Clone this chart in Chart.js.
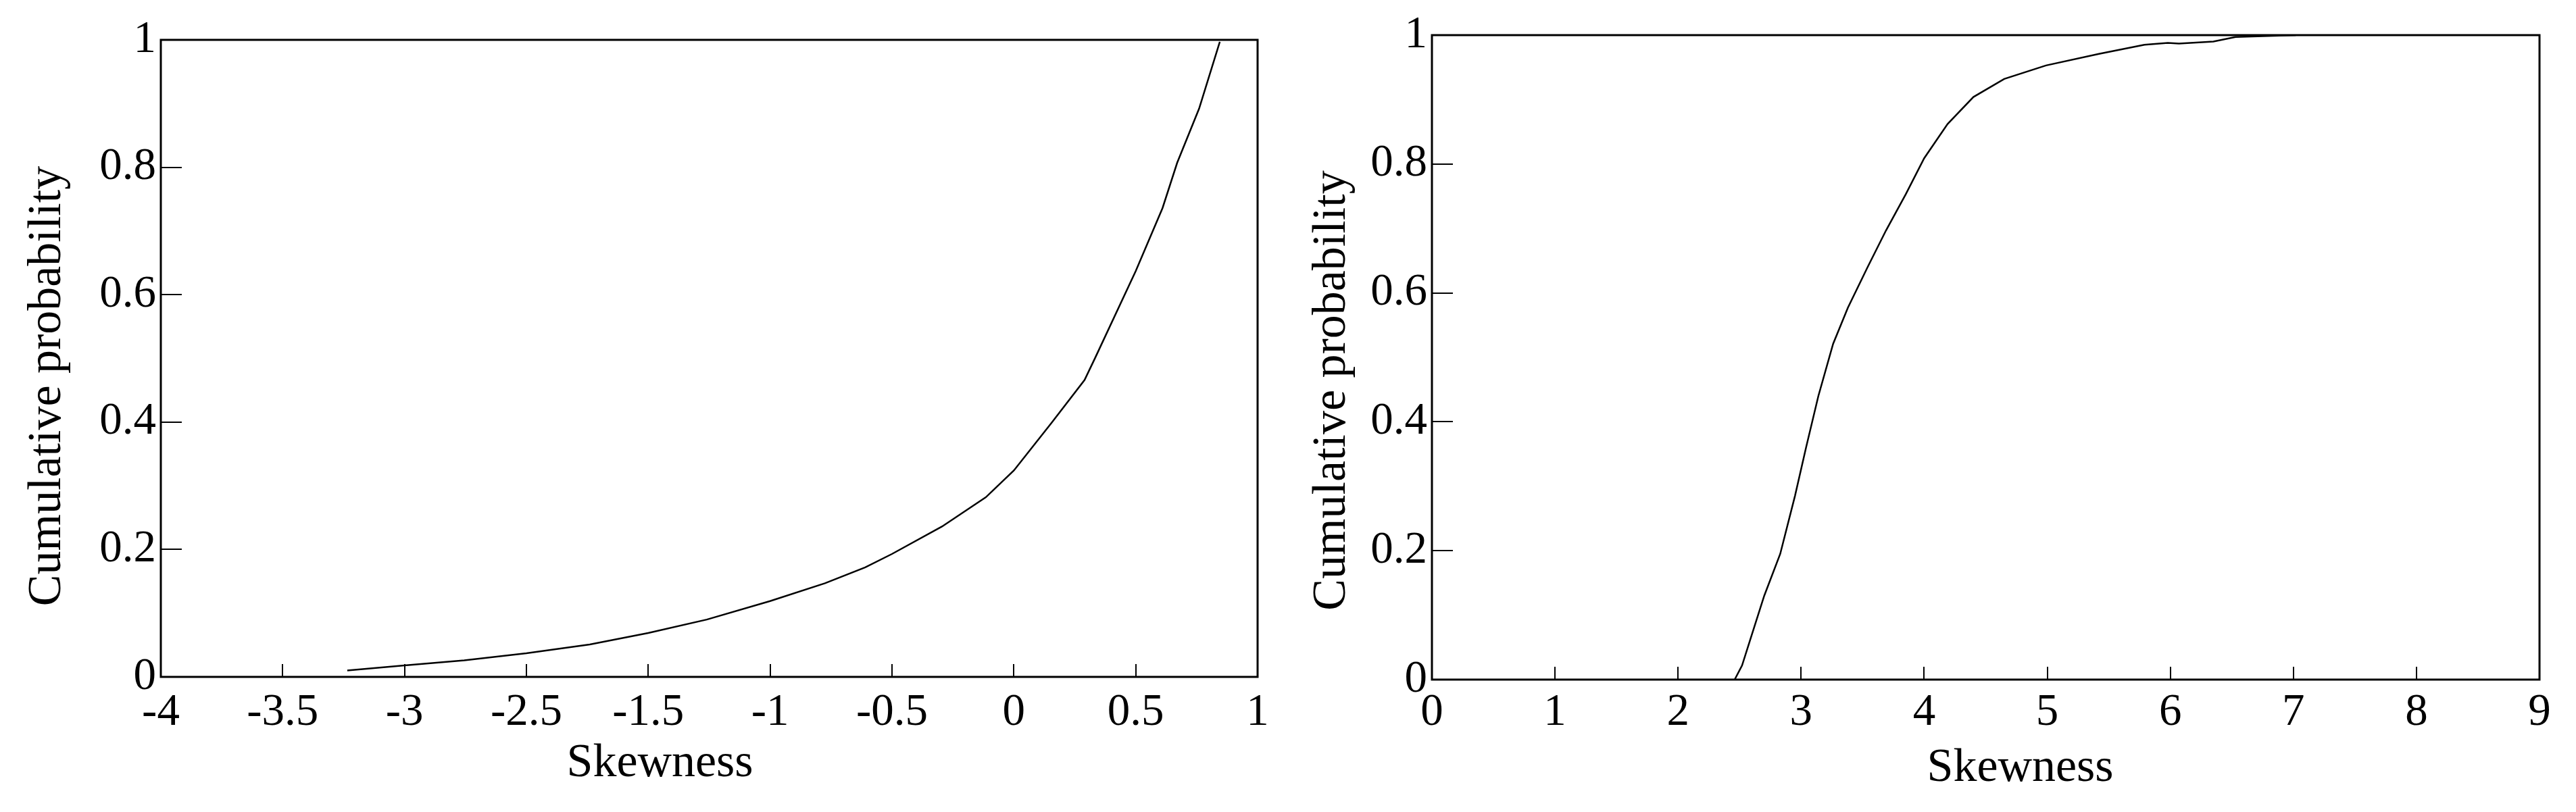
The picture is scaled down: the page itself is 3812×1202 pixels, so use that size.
<!DOCTYPE html>
<html>
<head>
<meta charset="utf-8">
<script src="https://cdn.jsdelivr.net/npm/chart.js@4/dist/chart.umd.min.js"></script>
<style>
  html, body { margin: 0; padding: 0; background: #fff; }
  #wrap { position: relative; width: 3812px; height: 1202px; overflow: hidden; }
  canvas { position: absolute; top: 0; }
</style>
</head>
<body>
<div id="wrap">
  <canvas id="leftChart" width="1900" height="1202" style="left:0"></canvas>
  <canvas id="rightChart" width="1912" height="1202" style="left:1900px"></canvas>
</div>
<script>
"use strict";

// left panel: the printed axis skips "-2", so x is given as the tick slot (0..9)
const leftTickLabels = ["-4", "-3.5", "-3", "-2.5", "-1.5", "-1", "-0.5", "0", "0.5", "1"];
const leftSlot = [1.53, 2.0, 2.49, 3.0, 3.52, 4.0, 4.48, 5.0, 5.45, 5.78, 6.0, 6.41, 6.77, 7.0, 7.31, 7.58, 7.67, 8.0, 8.22, 8.34, 8.52, 8.69];
const leftProb = [0.010, 0.018, 0.026, 0.037, 0.051, 0.069, 0.090, 0.119, 0.147, 0.172, 0.193, 0.236, 0.282, 0.324, 0.399, 0.466, 0.502, 0.637, 0.736, 0.807, 0.892, 0.997];

// right panel
const rightTickLabels = ["0", "1", "2", "3", "4", "5", "6", "7", "8", "9"];
const rightSkew = [2.46, 2.52, 2.58, 2.70, 2.83, 2.95, 3.04, 3.14, 3.26, 3.38, 3.54, 3.69, 3.85, 4.0, 4.19, 4.40, 4.65, 4.99, 5.42, 5.79, 5.98, 6.07, 6.35, 6.53, 7.02];
const rightProb = [0, 0.022, 0.058, 0.13, 0.195, 0.285, 0.36, 0.44, 0.521, 0.577, 0.640, 0.697, 0.753, 0.809, 0.862, 0.904, 0.932, 0.953, 0.971, 0.985, 0.988, 0.987, 0.990, 0.997, 1.0];

const yTickLabels = ["0", "0.2", "0.4", "0.6", "0.8", "1"];

const FONT = "'Liberation Serif', 'Times New Roman', serif";

// box round the plot + ticks pointing inward
const frameTicks = {
  id: "frameTicks",
  afterDraw(chart) {
    const ctx = chart.ctx;
    const a = chart.chartArea;
    const xs = chart.scales.x;
    const ys = chart.scales.y;
    ctx.save();
    ctx.strokeStyle = "#000";
    ctx.lineWidth = 2;
    ctx.beginPath();
    xs.ticks.forEach((t) => {
      const px = Math.round(xs.getPixelForValue(t.value));
      ctx.moveTo(px, a.bottom);
      ctx.lineTo(px, a.bottom - 19);
    });
    ys.ticks.forEach((t) => {
      const py = Math.round(ys.getPixelForValue(t.value));
      ctx.moveTo(a.left, py);
      ctx.lineTo(a.left + 31, py);
    });
    ctx.stroke();
    ctx.lineWidth = 3;
    ctx.strokeRect(a.left, a.top, a.right - a.left, a.bottom - a.top);
    ctx.restore();
  }
};

// axis titles, a bit off centre like in the original figure
const axisTitles = {
  id: "axisTitles",
  afterDraw(chart, args, o) {
    const ctx = chart.ctx;
    const a = chart.chartArea;
    const cx = (a.left + a.right) / 2;
    const cy = (a.top + a.bottom) / 2;
    ctx.save();
    ctx.fillStyle = "#000";
    ctx.font = "70px " + FONT;
    ctx.textAlign = "center";
    ctx.textBaseline = "middle";
    ctx.fillText(o.xText, cx + o.xShift, a.bottom + o.xGap);
    ctx.translate(a.left - o.yGap, cy + o.yShift);
    ctx.rotate(-Math.PI / 2);
    ctx.fillText(o.yText, 0, 0);
    ctx.restore();
  }
};

function makeChart(id, xs, ys, xLabels, opts) {
  const points = xs.map((x, i) => ({ x: x, y: ys[i] }));
  return new Chart(document.getElementById(id), {
    type: "line",
    data: {
      datasets: [{
        data: points,
        borderColor: "#000",
        borderWidth: 2.5,
        pointRadius: 0,
        tension: 0,
        fill: false
      }]
    },
    options: {
      responsive: false,
      animation: false,
      devicePixelRatio: 1,
      layout: { padding: opts.padding },
      plugins: {
        legend: { display: false },
        tooltip: { enabled: false },
        axisTitles: {
          xText: "Skewness",
          yText: "Cumulative probability",
          xShift: opts.xShift,
          xGap: opts.xGap,
          yShift: opts.yShift,
          yGap: opts.yGap
        }
      },
      scales: {
        x: {
          type: "linear",
          min: 0,
          max: 9,
          grid: { display: false, drawTicks: false },
          border: { display: false },
          ticks: {
            stepSize: 1,
            autoSkip: false,
            maxRotation: 0,
            padding: opts.xTickPad,
            color: "#000",
            font: { family: FONT, size: 67 },
            callback: (v) => xLabels[v]
          },
          afterFit(scale) { scale.height = opts.xHeight; }
        },
        y: {
          min: 0,
          max: 1,
          grid: { display: false, drawTicks: false },
          border: { display: false },
          ticks: {
            stepSize: 0.2,
            padding: 7,
            color: "#000",
            font: { family: FONT, size: 67 },
            callback: (v, i) => yTickLabels[i]
          },
          afterFit(scale) { scale.width = opts.yWidth; }
        }
      }
    },
    plugins: [frameTicks, axisTitles]
  });
}

makeChart("leftChart", leftSlot, leftProb, leftTickLabels, {
  padding: { left: 0, top: 59, right: 39, bottom: 0 },
  xHeight: 200,
  yWidth: 238,
  xTickPad: 13,
  xShift: -73,
  xGap: 129,
  yShift: 41,
  yGap: 167
});

makeChart("rightChart", rightSkew, rightProb, rightTickLabels, {
  padding: { left: 0, top: 52, right: 54, bottom: 0 },
  xHeight: 196,
  yWidth: 219,
  xTickPad: 9,
  xShift: 51,
  xGap: 132,
  yShift: 49,
  yGap: 147
});
</script>
</body>
</html>
